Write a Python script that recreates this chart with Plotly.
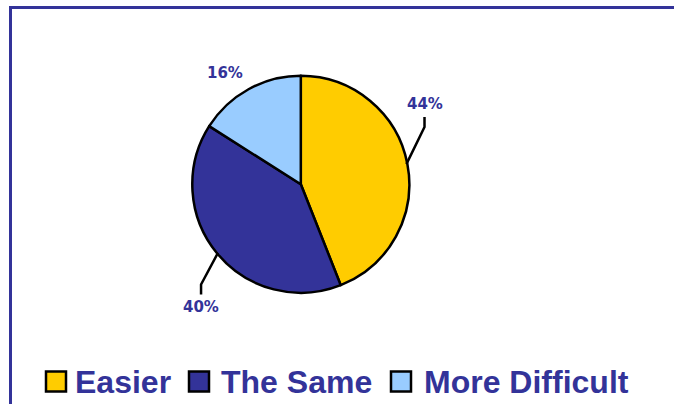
import math
import plotly.graph_objects as go

# ---- data ----
categories = ["Easier", "The Same", "More Difficult"]
values = [44, 40, 16]
label_texts = ["44%", "40%", "16%"]

# ---- style / layout config ----
colors = ["#FFCC00", "#333399", "#99CCFF"]
NAVY = "#333399"
W, H = 674, 404
CX, CY, R = 300.8, 184.3, 108.5          # pie centre / radius in px
label_shift_deg = [-22.2, -11.4, -5.5]   # label angle offset from slice mid
label_radius = [147.5, 158.5, 134.7]     # label distance from centre (px)
has_leader = [True, True, False]
legend_sq_x = [45, 188, 390]
legend_txt_x = [73, 219, 422]
LEG_Y = 381.5
SQ = 22


def px(x):
    return x / W


def py(y):
    return 1 - y / H


fig = go.Figure()
fig.add_trace(go.Pie(
    labels=categories, values=values, sort=False, direction="clockwise",
    rotation=0, textinfo="none", hoverinfo="label+percent",
    marker=dict(colors=colors, line=dict(color="black", width=2.5)),
    domain=dict(x=[px(CX - R), px(CX + R)], y=[py(CY + R), py(CY - R)]),
    showlegend=False,
))

shapes = []
annotations = []
total = sum(values)
cum = 0.0
for i, v in enumerate(values):
    mid = (cum + v / 2) / total * 360.0
    cum += v
    a = math.radians(mid)
    ex, ey = CX + (R - 1) * math.sin(a), CY - (R - 1) * math.cos(a)
    la = math.radians(mid + label_shift_deg[i])
    lx, ly = CX + label_radius[i] * math.sin(la), CY - label_radius[i] * math.cos(la)
    annotations.append(dict(
        x=px(lx), y=py(ly), xref="paper", yref="paper", text=label_texts[i],
        showarrow=False, xanchor="center", yanchor="middle",
        font=dict(family="DejaVu Sans", size=15, color=NAVY, weight="bold"),
    ))
    if has_leader[i]:
        s = 1 if ly < ey else -1
        elx, ely = lx, ly + s * 23
        enx, eny = lx, ly + s * 13
        path = f"M{px(ex)},{py(ey)} L{px(elx)},{py(ely)} L{px(enx)},{py(eny)}"
        shapes.append(dict(type="path", xref="paper", yref="paper", path=path,
                           line=dict(color="black", width=2.5)))

# frame lines (top and left)
shapes.append(dict(type="line", xref="paper", yref="paper",
                   x0=px(9), y0=py(7.5), x1=px(W + 5), y1=py(7.5),
                   line=dict(color=NAVY, width=3)))
shapes.append(dict(type="line", xref="paper", yref="paper",
                   x0=px(10.5), y0=py(6), x1=px(10.5), y1=py(H + 5),
                   line=dict(color=NAVY, width=3)))

# legend
for i, name in enumerate(categories):
    shapes.append(dict(type="rect", xref="paper", yref="paper",
                       x0=px(legend_sq_x[i] + 1), x1=px(legend_sq_x[i] + SQ - 1),
                       y0=py(LEG_Y - SQ / 2 + 1), y1=py(LEG_Y + SQ / 2 - 1),
                       fillcolor=colors[i], line=dict(color="black", width=2.5)))
    annotations.append(dict(
        x=px(legend_txt_x[i]), y=py(LEG_Y), xref="paper", yref="paper",
        text=name, showarrow=False, xanchor="left", yanchor="middle",
        font=dict(family="Liberation Sans", size=32, color=NAVY, weight="bold"),
    ))

fig.update_layout(
    width=W, height=H, margin=dict(l=0, r=0, t=0, b=0),
    paper_bgcolor="white", plot_bgcolor="white",
    shapes=shapes, annotations=annotations,
)
fig.write_html("out.html")
